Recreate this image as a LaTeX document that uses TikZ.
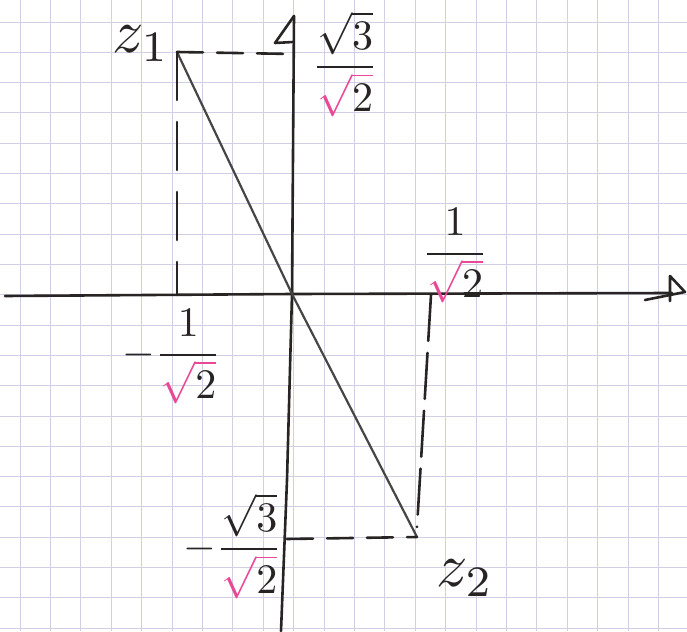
\documentclass[tikz,border=0pt]{standalone}
\usepackage{amsmath}
\usepackage{graphicx}
\usepackage{xcolor}
\definecolor{gridc}{RGB}{208,208,226}
\definecolor{pen}{RGB}{40,36,36}
\definecolor{pinkc}{RGB}{232,72,150}
\newcommand{\pk}[1]{\textcolor{pinkc}{\sqrt{\textcolor{pen}{#1}}}}
\newcommand{\fr}[1]{\scalebox{4.2}{$#1$}}
\newcommand{\zz}[1]{\scalebox{6.2}{$#1$}}
\begin{document}
\begin{tikzpicture}[x=1pt,y=-1pt,
  penline/.style={draw=pen, line width=2.6pt, line cap=round, line join=round},
  dashline/.style={penline, dash pattern=on 26pt off 14pt},
  lab/.style={text=pen, inner sep=0pt}]
\useasboundingbox (0,0) rectangle (687,631);
\fill[white] (0,0) rectangle (687,631);
\foreach \i in {0,...,22} \draw[gridc, line width=0.8pt] ({20+30.4*\i},0) -- ({20+30.4*\i},631);
\foreach \j in {0,...,20} \draw[gridc, line width=0.8pt] (0,{22+30.3*\j}) -- (687,{22+30.3*\j});
% points
\coordinate (O) at (292,294);
\coordinate (Z1) at (177,52);
\coordinate (Z2) at (417,537);
\coordinate (Xs) at (5,296);
\coordinate (Xe) at (672,293);
\coordinate (Yt) at (294,16);
\coordinate (Ym) at (287,480);
\coordinate (Yb) at (281,631);
\coordinate (Tx) at (431,295);
\coordinate (Tx2) at (177,295);
\coordinate (Ty) at (293,54);
\coordinate (Ty2) at (287,539);
\coordinate (Zb) at (417,527);
% axes
\draw[penline] (Xs) -- (O) -- (Xe);
\draw[penline] (645,300) -- (685,292) -- (670,276) -- (670,301);
\draw[penline] (Yt) -- (O) -- (Ym) -- (Yb);
\draw[penline] (293,42) -- (275,43) -- (Yt);
% segment z1 z2
\draw[penline, draw=pen!85, line width=2.2pt] (Z1) -- (O) -- (Z2);
% dashed projections
\draw[dashline] (Z1) -- (Ty);
\draw[dashline, dash pattern=on 48pt off 22pt] (Z1) -- (Tx2);
\draw[dashline, dash pattern=on 46pt off 12pt] (Tx) -- (Zb);
\draw[dashline] (Ty2) -- (Z2);
% labels
\node[lab] (ly1) at (345,64) {\fr{\dfrac{\sqrt{3}}{\pk{2}}}};
\node[lab] (lx1) at (455,256) {\fr{\dfrac{1}{\pk{2}}}};
\node[lab] (lx2) at (172,357) {\fr{-\dfrac{1}{\pk{2}}}};
\node[lab] (ly2) at (233,546) {\fr{-\dfrac{\sqrt{3}}{\pk{2}}}};
\node[lab] (nz1) at (141,44) {\zz{z_1}};
\node[lab] (nz2) at (465,578) {\zz{z_2}};
\end{tikzpicture}
\end{document}
